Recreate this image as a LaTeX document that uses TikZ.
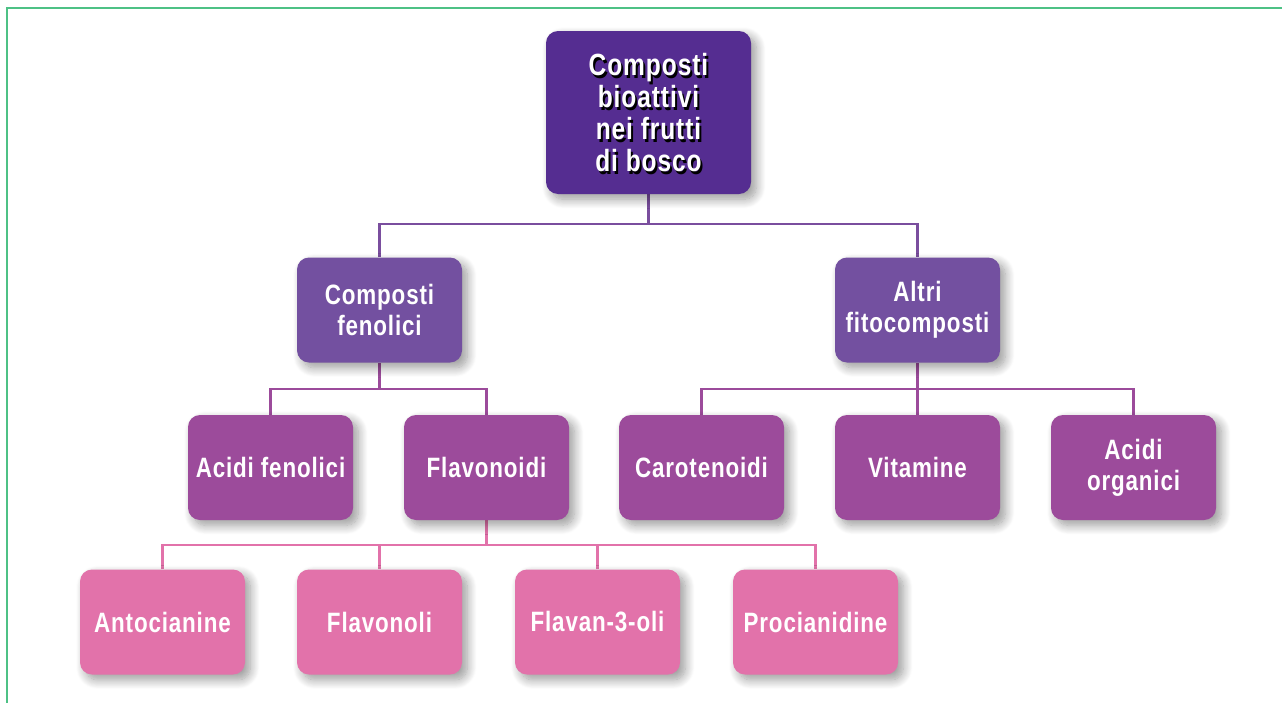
\documentclass[tikz,border=0pt]{standalone}
\usepackage{fontspec}
\newfontfamily\boxfont[FakeStretch=0.8,LetterSpace=3]{Liberation Sans}
\usetikzlibrary{shadows.blur,backgrounds,calc}
\definecolor{topc}{HTML}{552D91}
\definecolor{lvtwo}{HTML}{7350A0}
\definecolor{lvthree}{HTML}{9C4B9B}
\definecolor{lvfour}{HTML}{E272AA}
\definecolor{topline}{HTML}{7A4E9E}
\definecolor{frame}{HTML}{4DC185}
\tikzset{
  boxbase/.style={rounded corners=9pt, text=white, align=center, inner sep=0pt,
    font=\boxfont\bfseries\fontsize{21}{23}\selectfont,
    blur shadow={shadow xshift=4pt, shadow yshift=-4pt, shadow blur steps=12, shadow opacity=40, shadow blur radius=7pt}},
  stdbox/.style={boxbase, minimum width=123.75pt, minimum height=78.75pt},
  conn/.style={line width=1.7pt}
}
\begin{document}
\begin{tikzpicture}[x=0.75pt,y=-0.75pt]
\useasboundingbox (0,0) rectangle (1282,703);
\draw[frame, line width=1.8pt] (7,703) -- (7,8) -- (1282,8);
% top
\node[boxbase, fill=topc, minimum width=153.75pt, minimum height=122.25pt] (top) at (648.5,112.5) {};
\node[text=black, align=center, font=\boxfont\bfseries\fontsize{23}{24}\selectfont] at (650.5,115.5) {Composti\\bioattivi\\nei frutti\\di bosco};
\node[text=white, align=center, font=\boxfont\bfseries\fontsize{23}{24}\selectfont] (toptext) at (648.5,113) {Composti\\bioattivi\\nei frutti\\di bosco};
% level 2
\node[stdbox, fill=lvtwo] (cf) at (379.5,310) {Composti\\fenolici};
\node[stdbox, fill=lvtwo] (af) at (917.5,310) {Altri\\fitocomposti};
% level 3
\node[stdbox, fill=lvthree] (ac) at (270.5,467.5) {Acidi fenolici};
\node[stdbox, fill=lvthree] (fl) at (486.5,467.5) {Flavonoidi};
\node[stdbox, fill=lvthree] (ca) at (701.5,467.5) {Carotenoidi};
\node[stdbox, fill=lvthree] (vi) at (917.5,467.5) {Vitamine};
\node[stdbox, fill=lvthree] (ao) at (1133.5,467.5) {Acidi\\organici};
% level 4
\node[stdbox, fill=lvfour] (an) at (162.5,622) {Antocianine};
\node[stdbox, fill=lvfour] (fo) at (379.5,622) {Flavonoli};
\node[stdbox, fill=lvfour] (f3) at (597.5,622) {Flavan-3-oli};
\node[stdbox, fill=lvfour] (pr) at (815.5,622) {Procianidine};
% connectors
\coordinate (j1) at (648.5,224);
\coordinate (j2) at (379.5,389);
\coordinate (j3) at (917.5,389);
\coordinate (j4) at (486.5,545);
\begin{scope}[on background layer]
\draw[conn, topline] (top.south) -- (j1);
\draw[conn, topline] (cf.north) |- (j1) -| (af.north);
\draw[conn, lvthree] (cf.south) -- (j2);
\draw[conn, lvthree] (ac.north) |- (j2) -| (fl.north);
\draw[conn, lvthree] (af.south) -- (vi.north);
\draw[conn, lvthree] (ca.north) |- (j3) -| (ao.north);
\draw[conn, lvfour] (fl.south) -- (j4);
\draw[conn, lvfour] (an.north) |- (j4) -| (pr.north);
\draw[conn, lvfour] (fo.north) -- (fo.north |- j4);
\draw[conn, lvfour] (f3.north) -- (f3.north |- j4);
\end{scope}
\end{tikzpicture}
\end{document}
